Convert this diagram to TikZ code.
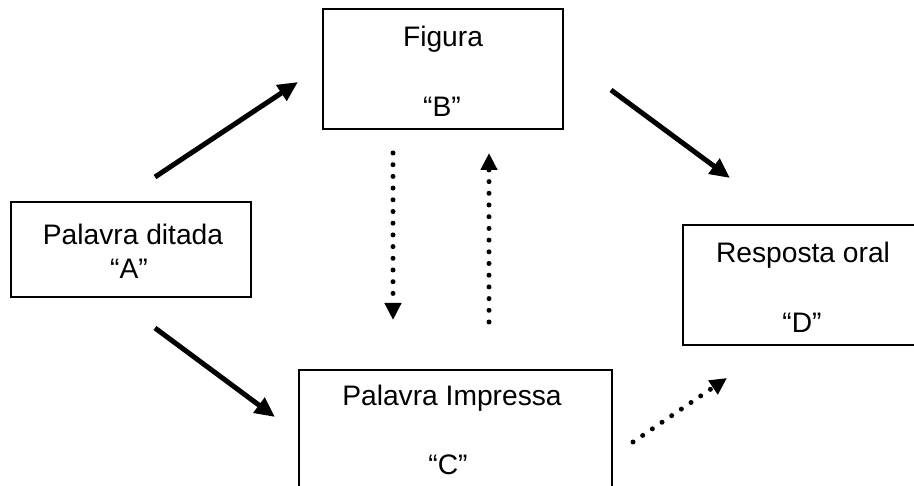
\documentclass[tikz,border=0pt]{standalone}
\usepackage{fontspec}
\setmainfont{Liberation Sans}
\usetikzlibrary{arrows.meta}
\begin{document}
\begin{tikzpicture}[x=1pt,y=-1pt,
  box/.style={draw,line width=2pt,rectangle,inner sep=0pt},
  txt/.style={anchor=base,inner sep=0pt,font=\fontsize{28.2}{34}\selectfont},
  solidarrow/.style={line width=5pt,-{Triangle[length=20pt,width=18pt]}},
  dotarrow/.style={line width=5pt,line cap=round,dash pattern=on 0pt off 11.7pt,
    -{Triangle[length=17pt,width=16pt]}}]
\path[fill=white,use as bounding box] (0,0) rectangle (914,486);
\begin{scope}
\clip (0,0) rectangle (914,486);
% boxes
\node[box,minimum width=240pt,minimum height=95pt]  (A) at (131,249.5) {};
\node[box,minimum width=240pt,minimum height=120pt] (B) at (443,69) {};
\node[box,minimum width=313pt,minimum height=140pt] (C) at (455.5,440) {};
\node[box,minimum width=277pt,minimum height=120pt] (D) at (821.5,285) {};
% labels
\node[txt] (Bt) at (443,47)  {Figura};
\node[txt] (Bq) at (442,117) {“B”};
\node[txt] (At) at (133,245) {Palavra ditada};
\node[txt] (Aq) at (129,279) {“A”};
\node[txt] (Dt) at (803,263) {Resposta oral};
\node[txt] (Dq) at (802,333) {“D”};
\node[txt] (Ct) at (452,406) {Palavra Impressa};
\node[txt] (Cq) at (448,475) {“C”};
% arrow ends
\coordinate (ab1) at (155,177); \coordinate (ab2) at (298,82);
\coordinate (bd1) at (611,90);  \coordinate (bd2) at (730,178);
\coordinate (ac1) at (155,328); \coordinate (ac2) at (275,417);
\coordinate (bc1) at (393,153); \coordinate (bc2) at (393,320);
\coordinate (cb1) at (489,322); \coordinate (cb2) at (489,153);
\coordinate (cd1) at (633,442); \coordinate (cd2) at (727,378);
% connectors
\draw[solidarrow] (ab1) -- (ab2);
\draw[solidarrow] (bd1) -- (bd2);
\draw[solidarrow] (ac1) -- (ac2);
\draw[dotarrow] (bc1) -- (bc2);
\draw[dotarrow] (cb1) -- (cb2);
\draw[dotarrow] (cd1) -- (cd2);
\end{scope}
\end{tikzpicture}
\end{document}
